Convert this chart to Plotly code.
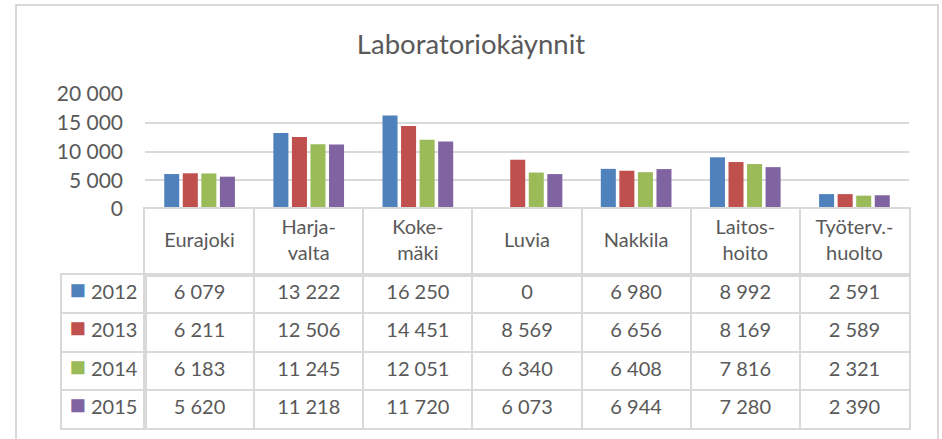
import plotly.graph_objects as go

# ── Data ────────────────────────────────────────────────────────────────────
kunnat = ["Eurajoki", "Harjavalta", "Kokemäki", "Luvia", "Nakkila",
          "Laitoshoito", "Työterveyshuolto"]
otsikot = ["Eurajoki", "Harja-<br>valta", "Koke-<br>mäki", "Luvia", "Nakkila",
           "Laitos-<br>hoito", "Työterv.-<br>huolto"]
vuodet = ["2012", "2013", "2014", "2015"]

v2012 = [6079, 13222, 16250, 0, 6980, 8992, 2591]
v2013 = [6211, 12506, 14451, 8569, 6656, 8169, 2589]
v2014 = [6183, 11245, 12051, 6340, 6408, 7816, 2321]
v2015 = [5620, 11218, 11720, 6073, 6944, 7280, 2390]

varit = ["#4F81BD", "#C0504D", "#9BBB59", "#8064A2"]

# ── Tyylit ──────────────────────────────────────────────────────────────────
W, H = 942, 439
TEKSTI = "#595959"
VIIVA = "#D9D9D9"
FONTTI = "Lato, Open Sans, sans-serif"


def _luku(v: int) -> str:
  return f"{v:,}".replace(",", " ")


def _px(x0, x1):
  return [x0 / W, x1 / W]


def _py(ylakaan, yala):
  # pikselit ylhäältä -> paper-murto-osa alhaalta
  return [1 - yala / H, 1 - ylakaan / H]


sarjat = [v2012, v2013, v2014, v2015]

fig = go.Figure()

# ── Pylväät ─────────────────────────────────────────────────────────────────
for vuosi, arvot, vari in zip(vuodet, sarjat, varit):
  fig.add_trace(go.Bar(
    x=kunnat, y=arvot, name=vuosi,
    marker=dict(color=vari, line=dict(width=0)),
    showlegend=False, hoverinfo="x+y+name",
    xaxis="x", yaxis="y",
  ))

# ── Datataulukko: otsikkorivi ───────────────────────────────────────────────
fig.add_trace(go.Scatter(
  x=kunnat, y=["otsikko"] * len(kunnat), text=otsikot,
  mode="text", textposition="middle center",
  textfont=dict(family=FONTTI, size=20, color=TEKSTI),
  hoverinfo="skip", showlegend=False, cliponaxis=False,
  xaxis="x2", yaxis="y2",
))

# ── Datataulukko: arvorivit ─────────────────────────────────────────────────
for vuosi, arvot in zip(vuodet, sarjat):
  fig.add_trace(go.Scatter(
    x=kunnat, y=[vuosi] * len(kunnat), text=[_luku(v) for v in arvot],
    mode="text", textposition="middle center",
    textfont=dict(family=FONTTI, size=20, color=TEKSTI),
    hoverinfo="skip", showlegend=False, cliponaxis=False,
    xaxis="x3", yaxis="y3",
  ))

# ── Datataulukko: selitesarake ──────────────────────────────────────────────
fig.add_trace(go.Scatter(
  x=["selite"] * len(vuodet), y=vuodet,
  text=[f"<span style='color:{c};font-size:27px'>■</span> {v}"
        for c, v in zip(varit, vuodet)],
  mode="text", textposition="middle center",
  textfont=dict(family=FONTTI, size=20, color=TEKSTI),
  hoverinfo="skip", showlegend=False, cliponaxis=False,
  xaxis="x4", yaxis="y4",
))

taulu_x = dict(
  type="category", tickson="boundaries", showticklabels=False, ticks="",
  showgrid=True, gridcolor=VIIVA, gridwidth=2, zeroline=False,
  showline=True, mirror=True, linecolor=VIIVA, linewidth=2,
  fixedrange=True, automargin=False,
)
yksi = dict(
  type="category", showticklabels=False, ticks="", showgrid=False,
  zeroline=False, showline=True, mirror=True, linecolor=VIIVA,
  linewidth=2, fixedrange=True, automargin=False,
)

fig.update_layout(
  template="none",
  width=W, height=H,
  margin=dict(l=0, r=0, t=0, b=0, pad=0, autoexpand=False),
  paper_bgcolor="white", plot_bgcolor="white",
  separators=", ",
  barmode="group", bargap=0.32, bargroupgap=0.19,
  font=dict(family=FONTTI, color=TEKSTI),
  title=dict(
    text="Laboratoriokäynnit", x=0.5, xref="paper",
    y=1 - 44 / H, yanchor="middle",
    font=dict(family=FONTTI, size=27.5, color=TEKSTI),
  ),
  xaxis=dict(
    domain=_px(145, 909), type="category", categoryarray=kunnat,
    range=[-0.5, len(kunnat) - 0.5], showticklabels=False,
    showgrid=False, zeroline=False, showline=False, fixedrange=True,
    automargin=False,
  ),
  yaxis=dict(
    domain=_py(94, 209), range=[0, 20000], dtick=5000,
    tickformat=",d", gridcolor=VIIVA, gridwidth=2,
    zeroline=False, showline=False, ticks="", fixedrange=True,
    ticklabelstandoff=21, automargin=False,
    tickfont=dict(family=FONTTI, size=21, color=TEKSTI),
  ),
  xaxis2=dict(taulu_x, domain=_px(145, 909), anchor="y2",
              categoryarray=kunnat, range=[-0.5, len(kunnat) - 0.5]),
  yaxis2=dict(yksi, domain=_py(209, 275), anchor="x2",
              categoryarray=["otsikko"], range=[-0.5, 0.5]),
  xaxis3=dict(taulu_x, domain=_px(145, 909), anchor="y3",
              categoryarray=kunnat, range=[-0.5, len(kunnat) - 0.5]),
  yaxis3=dict(taulu_x, domain=_py(275, 428), anchor="x3",
              categoryarray=vuodet, range=[len(vuodet) - 0.5, -0.5]),
  xaxis4=dict(yksi, domain=_px(62, 145), anchor="y4",
              categoryarray=["selite"], range=[-0.5, 0.5]),
  yaxis4=dict(taulu_x, domain=_py(275, 428), anchor="x4",
              categoryarray=vuodet, range=[len(vuodet) - 0.5, -0.5]),
  shapes=[dict(
    type="rect", xref="paper", yref="paper",
    x0=16 / W, x1=938 / W, y0=-0.1, y1=1 - 5 / H,
    line=dict(color=VIIVA, width=2), layer="below",
  )],
)

fig.write_html(
  "out.html",
  config={"displayModeBar": False},
  post_script="document.body.style.margin='0';",
)
